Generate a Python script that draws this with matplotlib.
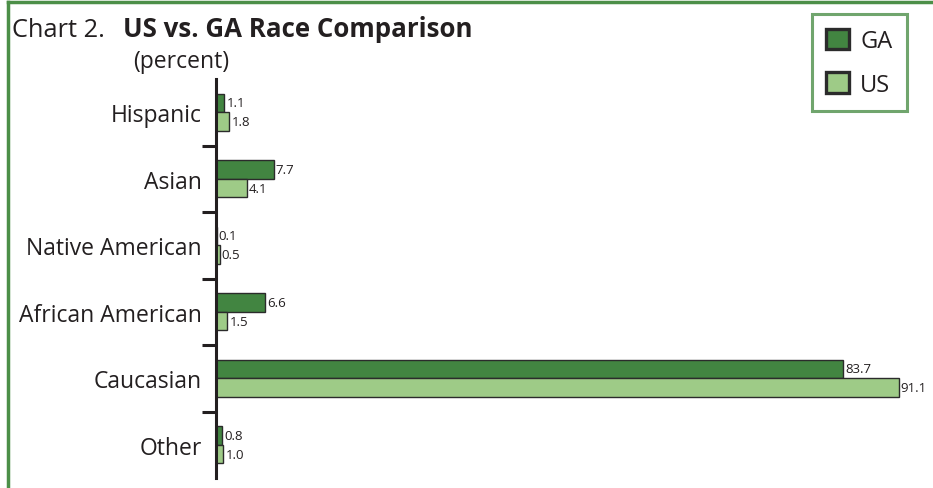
import matplotlib
matplotlib.use("Agg")
import matplotlib.pyplot as plt
import numpy as np
from matplotlib.patches import Patch
from matplotlib.lines import Line2D

plt.rcParams['font.family'] = ['Open Sans', 'DejaVu Sans']

categories = ["Hispanic", "Asian", "Native American", "African American", "Caucasian", "Other"]
ga_values = [1.1, 7.7, 0.1, 6.6, 83.7, 0.8]
us_values = [1.8, 4.1, 0.5, 1.5, 91.1, 1.0]
series_names = ["GA", "US"]

GA_COLOR = "#428541"
US_COLOR = "#9ecb87"
BORDER_GREEN = "#4c8f48"
EDGE = "#2b2b2b"
TEXT = "#231f20"

W, H = 933, 489
fig = plt.figure(figsize=(W / 100, H / 100), dpi=100)

ax = fig.add_axes([216 / W, 1 - 479 / H, (928 - 216) / W, (479 - 80) / H])

y = np.arange(len(categories))
bh = 0.28
b1 = ax.barh(y - bh / 2, ga_values, height=bh, color=GA_COLOR, edgecolor=EDGE, linewidth=1.0)
b2 = ax.barh(y + bh / 2, us_values, height=bh, color=US_COLOR, edgecolor=EDGE, linewidth=1.0)

for bars, vals in ((b1, ga_values), (b2, us_values)):
    for rect, v in zip(bars, vals):
        ax.annotate(f"{v:.1f}", xy=(rect.get_width(), rect.get_y() + rect.get_height() / 2),
                    xytext=(1.5, 0), textcoords="offset points", ha="left", va="center",
                    fontsize=9.5, color=TEXT)

ax.set_xlim(0, 95)
ax.set_ylim(len(categories) - 0.5, -0.5)
for s in ("top", "right", "bottom"):
    ax.spines[s].set_visible(False)
ax.spines["left"].set_linewidth(2.2)
ax.spines["left"].set_color(TEXT)
ax.set_xticks([])

ax.set_yticks(y)
ax.set_yticklabels(categories, fontsize=16.5, color=TEXT)
ax.tick_params(axis="y", which="major", length=0, pad=10)
ax.set_yticks(y[:-1] + 0.5, minor=True)
ax.tick_params(axis="y", which="minor", length=10, width=2.2, color=TEXT)

# title
fig.text(12 / W, 1 - 37 / H, "Chart 2.", fontsize=18.3, color=TEXT, ha="left", va="baseline")
fig.text(123 / W, 1 - 37 / H, "US vs. GA Race Comparison", fontsize=18.6, fontweight="bold",
         color=TEXT, ha="left", va="baseline")
fig.text(181 / W, 1 - 62 / H, "(percent)", fontsize=16.5, color=TEXT, ha="center", va="center")

# legend
handles = [Patch(facecolor=GA_COLOR, edgecolor=EDGE, linewidth=2.4),
           Patch(facecolor=US_COLOR, edgecolor=EDGE, linewidth=2.4)]
leg = fig.legend(handles, series_names, loc="upper right",
                 bbox_to_anchor=(907 / W, 1 - 15 / H), fontsize=17,
                 frameon=True, fancybox=False, handlelength=0.98, handleheight=0.98,
                 handletextpad=0.45, labelspacing=0.8, borderpad=0.62, borderaxespad=0)
leg.get_frame().set_edgecolor(BORDER_GREEN)
leg.get_frame().set_linewidth(2.2)
for t in leg.get_texts():
    t.set_color(TEXT)

# outer border (top and left)
fig.add_artist(Line2D([8 / W, 1], [1 - 3 / H, 1 - 3 / H], color=BORDER_GREEN, linewidth=2.5,
                      transform=fig.transFigure))
fig.add_artist(Line2D([8 / W, 8 / W], [1 - 3 / H, 0], color=BORDER_GREEN, linewidth=2.5,
                      transform=fig.transFigure))

fig.savefig("out.png", dpi=100)
